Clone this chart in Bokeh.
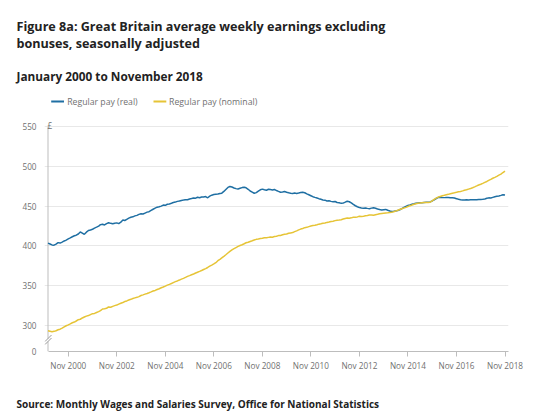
import pandas as pd
from bokeh.plotting import figure
from bokeh.layouts import column
from bokeh.models import Range1d, FixedTicker, DatetimeTickFormatter, Label
from bokeh.embed import file_html
from bokeh.resources import INLINE

# ---------------- data (GBP per week), monthly Jan 2000 - Nov 2018 ----------------
months = pd.date_range("2000-01-01", "2018-11-01", freq="MS")

real_pay = (
    [403.5, 402.4, 401.3, 401.0, 402.3, 404.2, 403.6, 404.9, 406.3, 407.4, 408.9, 410.2] +  # 2000
    [411.6, 412.8, 413.5, 415.0, 417.5, 416.2, 414.6, 417.3, 419.4, 420.1, 421.0, 422.4] +  # 2001
    [423.6, 425.0, 426.8, 427.3, 426.4, 428.1, 429.2, 428.4, 427.8, 428.6, 429.0, 428.0] +  # 2002
    [429.8, 432.6, 432.0, 433.5, 434.9, 436.0, 436.6, 437.8, 438.4, 439.7, 440.5, 440.1] +  # 2003
    [441.3, 442.5, 443.0, 444.6, 446.1, 447.5, 448.7, 449.2, 450.0, 451.3, 451.0, 452.4] +  # 2004
    [452.8, 453.6, 454.5, 455.1, 456.0, 456.4, 457.2, 457.6, 458.1, 458.0, 458.9, 459.5] +  # 2005
    [460.3, 460.0, 461.2, 460.5, 461.4, 461.6, 462.0, 460.5, 462.6, 463.8, 464.5, 464.9] +  # 2006
    [465.2, 465.8, 466.3, 468.5, 471.0, 473.5, 474.6, 474.0, 472.8, 472.0, 471.5, 472.4] +  # 2007
    [473.3, 473.8, 473.0, 471.2, 469.0, 467.6, 466.2, 467.0, 468.8, 470.5, 471.4, 470.6] +  # 2008
    [470.0, 471.2, 470.8, 470.3, 471.0, 469.6, 468.5, 467.4, 467.8, 468.4, 467.5, 466.8] +  # 2009
    [466.3, 466.0, 466.5, 465.9, 466.4, 467.2, 467.5, 466.8, 465.4, 464.3, 463.1, 461.9] +  # 2010
    [461.0, 460.2, 459.4, 458.6, 457.8, 457.5, 456.5, 456.8, 456.0, 455.4, 455.8, 454.6] +  # 2011
    [454.2, 453.5, 453.8, 455.0, 456.2, 455.5, 454.0, 452.1, 450.5, 449.3, 448.2, 447.8] +  # 2012
    [447.4, 447.6, 447.2, 446.8, 447.5, 448.0, 447.3, 446.5, 445.8, 445.2, 445.6, 445.9] +  # 2013
    [444.8, 443.9, 443.2, 443.5, 444.0, 444.4, 445.5, 447.0, 448.4, 449.6, 450.8, 451.5] +  # 2014
    [452.3, 452.9, 453.6, 454.0, 454.2, 454.4, 454.6, 454.8, 455.0, 455.3, 456.5, 458.0] +  # 2015
    [459.6, 461.0, 461.2, 460.9, 460.7, 461.0, 460.8, 460.5, 460.6, 460.2, 459.4, 458.6] +  # 2016
    [458.0, 457.6, 457.8, 458.0, 457.7, 457.9, 458.1, 458.0, 457.9, 458.2, 458.3, 458.6] +  # 2017
    [459.0, 459.8, 460.4, 460.2, 461.0, 461.8, 462.3, 462.8, 463.5, 464.4, 464.0]           # 2018
)

nominal_pay = (
    [293.5, 293.0, 292.4, 292.8, 293.6, 294.8, 295.5, 296.8, 298.4, 299.8, 301.0, 302.2] +  # 2000
    [303.6, 304.5, 305.8, 307.4, 308.0, 309.6, 310.8, 311.9, 312.6, 313.8, 315.0, 315.3] +  # 2001
    [316.4, 317.5, 318.8, 320.9, 321.2, 321.8, 323.4, 323.0, 324.2, 325.1, 325.8, 327.0] +  # 2002
    [328.0, 329.0, 330.2, 331.0, 332.1, 333.0, 334.0, 334.8, 335.5, 336.4, 337.8, 338.6] +  # 2003
    [339.5, 340.4, 341.3, 342.3, 343.4, 344.2, 345.4, 346.3, 347.5, 348.5, 349.6, 350.8] +  # 2004
    [351.8, 352.9, 354.0, 355.2, 356.1, 357.2, 358.4, 359.3, 360.5, 361.8, 362.8, 363.8] +  # 2005
    [364.8, 366.0, 367.0, 368.1, 369.2, 370.5, 371.6, 373.0, 374.6, 375.9, 377.4, 379.0] +  # 2006
    [381.5, 383.2, 385.0, 387.0, 389.0, 391.2, 393.2, 395.0, 396.6, 398.0, 399.4, 400.6] +  # 2007
    [401.6, 402.8, 404.0, 404.6, 405.6, 406.5, 407.5, 408.3, 408.8, 409.3, 409.8, 410.4] +  # 2008
    [410.3, 410.8, 411.2, 411.0, 411.8, 412.3, 413.0, 413.2, 414.0, 414.6, 415.0, 416.0] +  # 2009
    [416.4, 416.8, 418.0, 419.0, 420.2, 421.2, 422.0, 423.0, 423.4, 424.3, 425.0, 425.6] +  # 2010
    [426.0, 426.6, 427.4, 428.0, 428.6, 428.8, 429.6, 430.0, 430.6, 431.0, 431.8, 432.4] +  # 2011
    [432.6, 433.0, 433.8, 434.6, 435.2, 434.8, 435.3, 436.0, 436.2, 436.5, 437.2, 437.0] +  # 2012
    [437.4, 437.9, 438.2, 438.8, 439.0, 438.6, 439.2, 439.8, 440.5, 440.9, 441.2, 441.5] +  # 2013
    [441.6, 441.9, 442.2, 443.0, 443.8, 444.8, 445.8, 446.8, 447.6, 448.5, 449.6, 450.6] +  # 2014
    [451.4, 452.3, 453.0, 453.6, 454.0, 454.3, 454.5, 454.6, 454.5, 455.0, 456.5, 458.4] +  # 2015
    [460.0, 461.4, 462.2, 463.0, 463.6, 464.3, 464.8, 465.6, 466.3, 466.8, 467.4, 468.0] +  # 2016
    [468.5, 469.2, 470.0, 470.5, 471.4, 472.2, 473.1, 474.2, 475.4, 476.6, 477.5, 478.6] +  # 2017
    [479.8, 481.0, 482.4, 483.6, 485.0, 486.2, 487.4, 489.0, 490.2, 492.2, 494.0]           # 2018
)

tick_years = [2000, 2002, 2004, 2006, 2008, 2010, 2012, 2014, 2016, 2018]
y_ticks = [300, 350, 400, 450, 500, 550]
y_break = 267.5          # position that carries the "0" label (axis break)

title_lines = ["Figure 8a: Great Britain average weekly earnings excluding",
               "bonuses, seasonally adjusted"]
subtitle = "January 2000 to November 2018"
source = "Source: Monthly Wages and Salaries Survey, Office for National Statistics"
series_names = ["Regular pay (real)", "Regular pay (nominal)"]

BLUE = "#1f6fa3"
YELLOW = "#e6c436"
GREY = "#707070"
AXIS = "#bdbdbd"
DARK = "#222222"
FONT = "Open Sans"

# ---------------- layout (page pixels) ----------------
W = 536
HEAD_H, MAIN_H, FOOT_H = 86, 299, 29
MAIN_TOP = HEAD_H
FRAME_L, FRAME_R, FRAME_B = 44, 508, 351
AX_X, Y550_PX = 47.5, 126.0
NOV18_PX = 504.5

jan00 = pd.Timestamp("2000-01-01").value / 1e6
nov18 = pd.Timestamp("2018-11-01").value / 1e6
ms_per_px = (nov18 - jan00) / (NOV18_PX - AX_X)
u_per_px = (y_ticks[-1] - y_break) / (FRAME_B - Y550_PX)


def xd(px):
    return jan00 + (px - AX_X) * ms_per_px


def yd(py):
    return y_break + (FRAME_B - py) * u_per_px


x_start, x_end = xd(FRAME_L), xd(FRAME_R)
y_top = yd(MAIN_TOP)


def text_panel(height, page_top):
    f = figure(width=W, height=height, x_range=Range1d(0, W),
               y_range=Range1d(page_top + height, page_top),
               x_axis_type=None, y_axis_type=None, output_backend="svg",
               toolbar_location=None, min_border=0)
    f.outline_line_color = None
    f.grid.visible = False
    f.frame_align = False
    return f


# ---------------- header ----------------
head = text_panel(HEAD_H, 0)
for i, t in enumerate(title_lines):
    head.add_layout(Label(x=16, y=26 + 16.8 * i, text=t, text_font=FONT,
                          text_font_style="bold", text_font_size="12.6px",
                          text_color=DARK, text_baseline="alphabetic"))
head.add_layout(Label(x=16, y=75, text=subtitle, text_font=FONT,
                      text_font_style="bold", text_font_size="11.8px",
                      text_color=DARK, text_baseline="alphabetic"))

# ---------------- main chart ----------------
p = figure(width=W, height=MAIN_H, x_axis_type="datetime",
           x_range=Range1d(x_start, x_end), y_range=Range1d(y_break, y_top),
           output_backend="svg", toolbar_location=None,
           min_border_left=FRAME_L, min_border_right=W - FRAME_R,
           min_border_top=0, min_border_bottom=MAIN_TOP + MAIN_H - FRAME_B)
p.outline_line_color = None
p.frame_align = False

p.xaxis.ticker = FixedTicker(ticks=[pd.Timestamp(f"{y}-11-01").value / 1e6 for y in tick_years])
p.xaxis.formatter = DatetimeTickFormatter(days="%b %Y", months="%b %Y", years="%b %Y")
p.xaxis.bounds = (jan00, x_end)
p.xaxis.axis_line_color = AXIS
p.xaxis.major_tick_line_color = AXIS
p.xaxis.major_tick_out = 5
p.xaxis.major_tick_in = 0
p.xaxis.minor_tick_line_color = None
p.xaxis.major_label_standoff = 3

p.yaxis.ticker = FixedTicker(ticks=[y_break] + y_ticks)
p.yaxis.major_label_overrides = {y_break: "0"}
p.yaxis.axis_line_color = None
p.yaxis.major_tick_line_color = None
p.yaxis.major_tick_out = 0
p.yaxis.major_tick_in = 0
p.yaxis.minor_tick_line_color = None
p.yaxis.major_label_standoff = 8

for ax in (p.xaxis[0], p.yaxis[0]):
    ax.major_label_text_font = FONT
    ax.major_label_text_font_size = "8.2px"
    ax.major_label_text_color = GREY

p.xgrid.grid_line_color = None
p.ygrid.ticker = FixedTicker(ticks=y_ticks)
p.ygrid.bounds = (jan00, x_end)
p.ygrid.grid_line_color = "#e8e8e8"

# y axis line with a break between 0 and 300
p.segment(x0=[jan00, jan00], y0=[y_ticks[-1], yd(341.0)],
          x1=[jan00, jan00], y1=[yd(338.2), y_break], line_color=AXIS, line_width=1)
p.segment(x0=[xd(44.5), xd(44.5)], y0=[yd(341.0), yd(344.0)],
          x1=[xd(51.0), xd(51.0)], y1=[yd(334.5), yd(337.5)],
          line_color="#9a9a9a", line_width=1)

# series
p.line(months, real_pay, line_color=BLUE, line_width=1.5)
p.line(months, nominal_pay, line_color=YELLOW, line_width=1.5)

# legend (drawn inside the frame, above the plotting area)
leg_y = yd(101)
for (gx0, gx1, tx), name, col in zip([(50.7, 63.5, 66.7), (153.0, 165.8, 168.6)],
                                     series_names, [BLUE, YELLOW]):
    p.segment(x0=[xd(gx0)], y0=[leg_y], x1=[xd(gx1)], y1=[leg_y], line_color=col, line_width=2)
    p.add_layout(Label(x=xd(tx), y=leg_y, text=name, text_font=FONT,
                       text_font_size="8.7px", text_color=GREY, text_baseline="middle"))

p.add_layout(Label(x=xd(47), y=yd(124.5), text="£", text_font=FONT,
                   text_font_size="8.2px", text_color=GREY, text_baseline="alphabetic"))

# ---------------- footer ----------------
foot = text_panel(FOOT_H, MAIN_TOP + MAIN_H)
foot.add_layout(Label(x=16, y=403, text=source, text_font=FONT,
                      text_font_style="bold", text_font_size="10px",
                      text_color=DARK, text_baseline="alphabetic"))

layout = column(head, p, foot, spacing=0)
open("out.html", "w").write(file_html(layout, INLINE))
